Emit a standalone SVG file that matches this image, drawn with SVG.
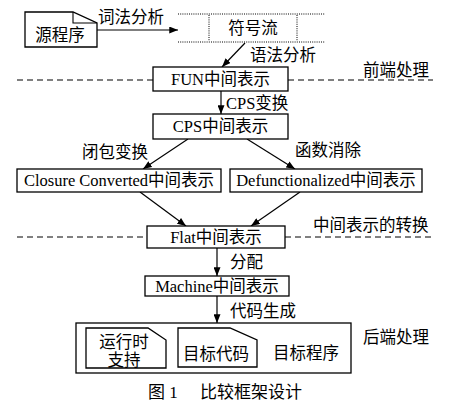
<svg xmlns="http://www.w3.org/2000/svg" width="457" height="411" viewBox="0 0 457 411">
<defs>
<marker id="ah" viewBox="0 0 10 8" refX="10" refY="4" markerWidth="9" markerHeight="7" markerUnits="userSpaceOnUse" orient="auto">
<path d="M0,0 L10,4 L0,8 z" fill="#000"/>
</marker>
</defs>
<style>
text{font-family:"Liberation Serif","Noto Sans CJK SC",serif;font-size:16.5px;fill:#000}
.c{text-anchor:middle}
.box{fill:#fff;stroke:#000;stroke-width:1.3}
.dash{stroke:#000;stroke-width:1;stroke-dasharray:6,4;fill:none}
.dot{stroke:#000;stroke-width:1;stroke-dasharray:1,1.2;fill:none}
.arr{stroke:#000;stroke-width:1.2;fill:none;marker-end:url(#ah)}
</style>
<rect width="457" height="411" fill="#fff"/>

<g id="separators">
<line class="dash" x1="17" y1="80" x2="153" y2="80"/>
<line class="dash" x1="288" y1="80" x2="433" y2="80"/>
<line class="dash" x1="17" y1="237" x2="147" y2="237"/>
<line class="dash" x1="285" y1="237" x2="433" y2="237"/>
<text x="363" y="76">前端处理</text>
<text x="313" y="231">中间表示的转换</text>
<text x="363" y="343">后端处理</text>
</g>

<g id="connectors">
<line class="arr" x1="97" y1="30" x2="178" y2="30"/>
<line class="arr" x1="245" y1="43" x2="222" y2="67"/>
<line class="arr" x1="221" y1="91" x2="221" y2="114"/>
<line class="arr" x1="188" y1="139" x2="143" y2="169"/>
<line class="arr" x1="247" y1="139" x2="295" y2="169"/>
<line class="arr" x1="140" y1="192" x2="186" y2="226"/>
<line class="arr" x1="300" y1="192" x2="251" y2="226"/>
<line class="arr" x1="217" y1="248" x2="217" y2="276"/>
<line class="arr" x1="217" y1="296" x2="217" y2="323"/>
<text x="98" y="23">词法分析</text>
<text x="250" y="61">语法分析</text>
<text x="226" y="109">CPS变换</text>
<text x="82" y="158">闭包变换</text>
<text x="295" y="156">函数消除</text>
<text x="230" y="268">分配</text>
<text x="230" y="317">代码生成</text>
</g>

<g id="source">
<path class="box" d="M25,12 L73,12 L97,23 L97,47 L25,47 z"/>
<polyline points="73,12 73,23 97,23" fill="none" stroke="#000" stroke-width="1.1"/>
<text class="c" x="60" y="41">源程序</text>
</g>

<g id="tokens">
<line class="dot" x1="178" y1="14" x2="325" y2="14"/>
<line class="dot" x1="178" y1="42" x2="325" y2="42"/>
<line class="dot" x1="209" y1="15" x2="209" y2="41"/>
<line class="dot" x1="297" y1="15" x2="297" y2="41"/>
<text class="c" x="253" y="34">符号流</text>
</g>

<g id="fun">
<rect class="box" x="153" y="67" width="135" height="24"/>
<text class="c" x="220.5" y="85">FUN中间表示</text>
</g>

<g id="cps">
<rect class="box" x="153" y="114" width="135" height="25"/>
<text class="c" x="220.5" y="132">CPS中间表示</text>
</g>

<g id="closure">
<rect class="box" x="17" y="169" width="204" height="23"/>
<text class="c" x="119" y="186">Closure Converted中间表示</text>
</g>

<g id="defunc">
<rect class="box" x="230" y="169" width="192" height="23"/>
<text class="c" x="326" y="186">Defunctionalized中间表示</text>
</g>

<g id="flat">
<rect class="box" x="147" y="226" width="138" height="22"/>
<text class="c" x="216" y="243">Flat中间表示</text>
</g>

<g id="machine">
<rect class="box" x="145" y="276" width="144" height="20"/>
<text class="c" x="217" y="292">Machine中间表示</text>
</g>

<g id="target">
<rect class="box" x="76" y="323" width="275" height="50"/>
<text x="273" y="359">目标程序</text>
</g>

<g id="runtime">
<path class="box" d="M86,328 L148,328 L166,340 L166,368 L86,368 z"/>
<text class="c" x="124" y="348">运行时</text>
<text class="c" x="124" y="366">支持</text>
</g>

<g id="objcode">
<path class="box" d="M178,328 L230,328 L257,340 L257,367 L178,367 z"/>
<text class="c" x="216" y="360">目标代码</text>
</g>

<g id="caption">
<text x="148" y="398" style="font-size:17px">图 1</text>
<text x="200" y="398" style="font-size:17px">比较框架设计</text>
</g>
</svg>
